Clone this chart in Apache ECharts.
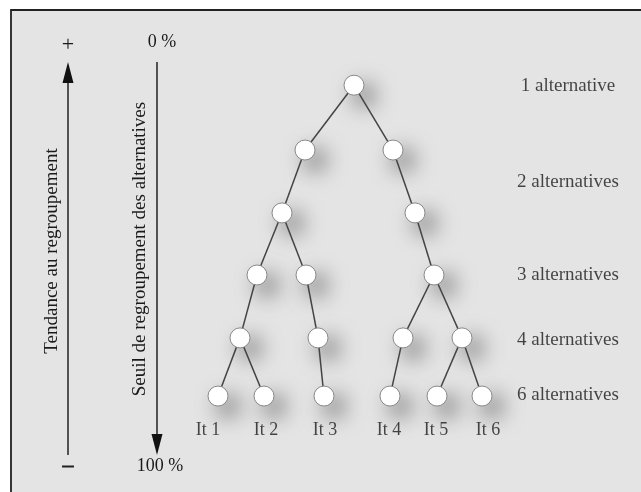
<!DOCTYPE html>
<html>
<head>
<meta charset="utf-8">
<script src="https://cdn.jsdelivr.net/npm/echarts@6/dist/echarts.min.js"></script>
<style>html,body{margin:0;padding:0;background:#fff}#c{width:641px;height:492px}</style>
</head>
<body>
<div id="c"></div>
<script>
// Threshold (%) of each level of the tree, 0 % at top, 100 % at bottom
const levelThresholds = [5.9, 22.4, 38.4, 54.2, 70.2, 85.0];
// Horizontal positions of nodes at each level
const levelX = [
  [354],
  [305, 393],
  [282, 415],
  [257, 306, 434],
  [240, 318, 403, 462],
  [218, 264, 324, 390, 437, 482]
];
// Parent index (in previous level) of each node
const levelParents = [
  [],
  [0, 0],
  [0, 1],
  [0, 0, 1],
  [0, 1, 2, 2],
  [0, 0, 1, 2, 3, 3]
];
// Item labels under leaves
const itemNames = ['It 1', 'It 2', 'It 3', 'It 4', 'It 5', 'It 6'];
const itemLabelX = [208, 266, 325, 389, 436, 488];
const itemLabelY = 93.8;
// Right-hand partition labels
const partitionNames = ['1 alternative', '2 alternatives', '3 alternatives', '4 alternatives', '6 alternatives'];
const partitionY = [6.1, 30.5, 54.2, 70.7, 84.7];
const partitionX = 568;

const FONT = '"Liberation Serif", "Times New Roman", serif';
const TXT = '#1a1a1a';
const BG = '#e4e4e4';

const nodes = [];
const links = [];
levelX.forEach((xs, li) => {
  xs.forEach((x, i) => {
    const name = 'n' + li + '_' + i;
    nodes.push({ name, value: [x, levelThresholds[li]] });
    if (li > 0) links.push({ source: 'n' + (li - 1) + '_' + levelParents[li][i], target: name });
  });
});

const chart = echarts.init(document.getElementById('c'), null, { renderer: 'canvas' });
chart.setOption({
  backgroundColor: '#fff',
  animation: false,
  grid: { left: 0, right: 0, top: 62, height: 393 },
  xAxis: { type: 'value', min: 0, max: 641, show: false },
  yAxis: { type: 'value', min: 0, max: 100, inverse: true, show: false },
  graphic: [
    { type: 'rect', z: -10, shape: { x: 11, y: 10, width: 640, height: 490 },
      style: { fill: BG, stroke: '#222', lineWidth: 1.8 } },
    // left arrow (Tendance)
    { type: 'line', shape: { x1: 68, y1: 80, x2: 68, y2: 455 }, style: { stroke: '#222', lineWidth: 1.5 } },
    { type: 'polygon', shape: { points: [[62.5, 83], [73.5, 83], [68, 62]] }, style: { fill: '#111' } },
    { type: 'text', x: 68, y: 45, style: { text: '+', font: '22px ' + FONT, fill: TXT, align: 'center', verticalAlign: 'middle' } },
    { type: 'line', shape: { x1: 62, y1: 466.5, x2: 74, y2: 466.5 }, style: { stroke: '#222', lineWidth: 2 } },
    { type: 'text', x: 52, y: 251, rotation: Math.PI / 2,
      style: { text: 'Tendance au regroupement', font: '19px ' + FONT, fill: TXT, align: 'center', verticalAlign: 'middle' } },
    // second arrow (Seuil)
    { type: 'line', shape: { x1: 157, y1: 62, x2: 157, y2: 437 }, style: { stroke: '#222', lineWidth: 1.5 } },
    { type: 'polygon', shape: { points: [[151.5, 434], [162.5, 434], [157, 455]] }, style: { fill: '#111' } },
    { type: 'text', x: 162, y: 42, style: { text: '0 %', font: '18px ' + FONT, fill: TXT, align: 'center', verticalAlign: 'middle' } },
    { type: 'text', x: 160, y: 466, style: { text: '100 %', font: '18px ' + FONT, fill: TXT, align: 'center', verticalAlign: 'middle' } },
    { type: 'text', x: 140, y: 249, rotation: Math.PI / 2,
      style: { text: 'Seuil de regroupement des alternatives', font: '19px ' + FONT, fill: TXT, align: 'center', verticalAlign: 'middle' } }
  ],
  series: [
    { // shadows beneath everything
      type: 'scatter', z: 1, silent: true,
      data: nodes.map(n => n.value),
      symbolSize: 19,
      itemStyle: { color: BG, shadowBlur: 22, shadowColor: 'rgba(0,0,0,0.8)', shadowOffsetX: 10, shadowOffsetY: 10 }
    },
    {
      type: 'graph', coordinateSystem: 'cartesian2d', z: 2, silent: true,
      data: nodes, links: links,
      symbol: 'circle', symbolSize: 20,
      label: { show: false },
      itemStyle: { color: '#fff', borderColor: '#8a8a8a', borderWidth: 1 },
      lineStyle: { color: '#444', width: 1.5, opacity: 1, curveness: 0 },
      edgeSymbol: ['none', 'none']
    },
    {
      type: 'scatter', z: 3, silent: true, symbolSize: 0,
      data: itemNames.map((n, i) => ({ name: n, value: [itemLabelX[i], itemLabelY] })),
      label: { show: true, position: 'inside', formatter: p => p.name, color: TXT, fontFamily: FONT, fontSize: 18 }
    },
    {
      type: 'scatter', z: 3, silent: true, symbolSize: 0,
      data: partitionNames.map((n, i) => ({ name: n, value: [partitionX, partitionY[i]] })),
      label: { show: true, position: 'inside', formatter: p => p.name, color: TXT, fontFamily: FONT, fontSize: 19 }
    }
  ]
});
</script>
</body>
</html>
